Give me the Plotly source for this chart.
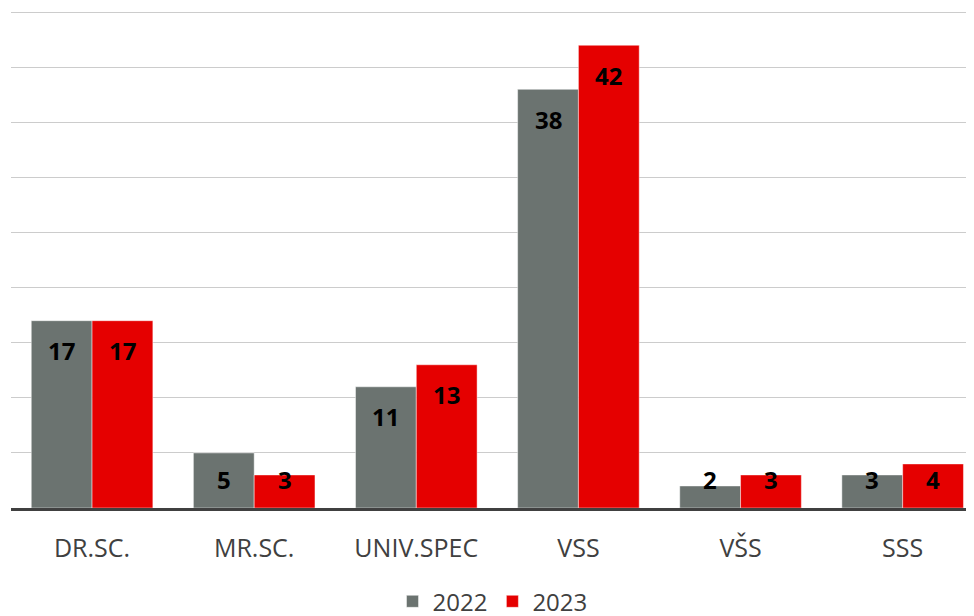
import plotly.graph_objects as go

categories = ["DR.SC.", "MR.SC.", "UNIV.SPEC", "VSS", "VŠS", "SSS"]
values_2022 = [17, 5, 11, 38, 2, 3]
values_2023 = [17, 3, 13, 42, 3, 4]

GRAY = "#6b7370"
RED = "#e50000"
FONT = "Open Sans"

fig = go.Figure()

fig.add_trace(
    go.Bar(
        x=categories,
        y=values_2022,
        name="2022",
        marker=dict(color=GRAY, line=dict(color="rgba(255,255,255,0.45)", width=1)),
        hoverinfo="skip",
    )
)
fig.add_trace(
    go.Bar(
        x=categories,
        y=values_2023,
        name="2023",
        marker=dict(color=RED, line=dict(color="rgba(255,255,255,0.45)", width=1)),
        hoverinfo="skip",
    )
)

# data labels, placed just inside the top of each bar (clamped for short bars)
offset = 0.1875
for series, shift in ((values_2022, -offset), (values_2023, offset)):
    for i, v in enumerate(series):
        fig.add_annotation(
            x=i + shift,
            y=max(v - 2.7, 2.6),
            xref="x",
            yref="y",
            text=f"<b>{v}</b>",
            showarrow=False,
            font=dict(family=FONT, size=24, color="black"),
            xanchor="center",
            yanchor="middle",
        )

# the page body adds an 8px offset, so margins are trimmed to compensate
fig.update_layout(
    width=974,
    height=616,
    margin=dict(l=3, r=8, t=2, b=116, autoexpand=False),
    paper_bgcolor="white",
    plot_bgcolor="white",
    barmode="group",
    bargap=0.25,
    bargroupgap=0,
    font=dict(family=FONT, size=25, color="#404040"),
    xaxis=dict(
        range=[-0.5, 5.44],
        showline=True,
        linecolor="#404040",
        linewidth=3,
        showgrid=False,
        ticks="",
        ticklabelstandoff=16,
        tickfont=dict(family=FONT, size=25, color="#404040"),
        fixedrange=True,
    ),
    yaxis=dict(
        range=[0, 45.2],
        dtick=5,
        showgrid=True,
        gridcolor="#cccccc",
        gridwidth=1,
        zeroline=False,
        showticklabels=False,
        ticks="",
        fixedrange=True,
    ),
    legend=dict(
        orientation="h",
        x=0.5,
        xanchor="center",
        y=-0.143,
        yanchor="top",
        font=dict(family=FONT, size=24, color="#404040"),
        traceorder="normal",
    ),
    showlegend=True,
)

fig.write_html("out.html")
